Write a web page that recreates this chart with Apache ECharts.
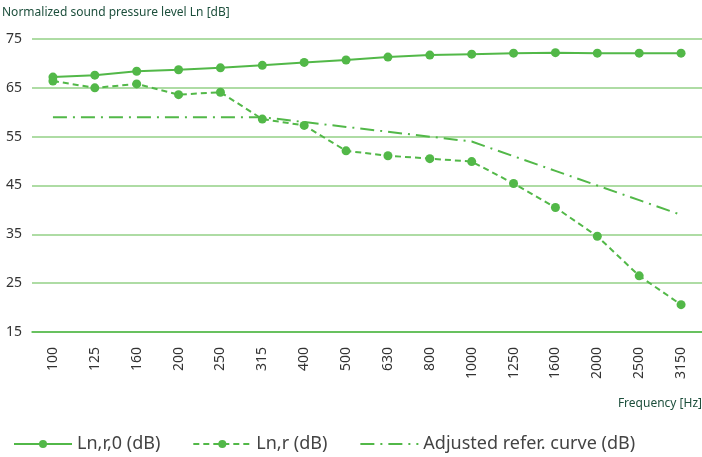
<!DOCTYPE html>
<html style="height: 100%">
   <head>
       <meta charset="utf-8">
   </head>
   <body style="height: 100%; margin: 0; background: #fff">
       <div id="container" style="width: 702px; height: 457px"></div>
       <script type="text/javascript" src="https://cdn.jsdelivr.net/npm/echarts@6/dist/echarts.min.js"></script>
       <script type="text/javascript">
var frequencies = ['100', '125', '160', '200', '250', '315', '400', '500', '630', '800', '1000', '1250', '1600', '2000', '2500', '3150'];
var lnr0 = [67.2, 67.6, 68.4, 68.7, 69.1, 69.6, 70.2, 70.7, 71.3, 71.7, 71.9, 72.1, 72.2, 72.1, 72.1, 72.1];
var lnr = [66.4, 65.0, 65.8, 63.6, 64.1, 58.6, 57.3, 52.1, 51.1, 50.5, 49.9, 45.4, 40.5, 34.6, 26.5, 20.6];
var refCurve = [59, 59, 59, 59, 59, 59, 58, 57, 56, 55, 54, 51, 48, 45, 42, 39];

var green = '#52b848';
var gridGreen = '#93d086';
var font = 'Noto Sans';

var dom = document.getElementById("container");
var myChart = echarts.init(dom);
var option = {
    animation: false,
    textStyle: {fontFamily: font},
    grid: {left: 32, right: 0, top: 39, bottom: 125, outerBoundsMode: 'none'},
    legend: {
        left: 8,
        top: 430,
        itemWidth: 58,
        itemHeight: 10,
        itemGap: 32,
        textStyle: {fontSize: 18, color: '#444', fontFamily: font},
        data: [
            {name: 'Ln,r,0 (dB)'},
            {name: 'Ln,r (dB)'},
            {name: 'Adjusted refer. curve (dB)', itemStyle: {opacity: 0}}
        ]
    },
    xAxis: {
        type: 'category',
        data: frequencies,
        name: 'Frequency [Hz]',
        nameLocation: 'end',
        nameGap: 0,
        nameTextStyle: {
            align: 'right',
            verticalAlign: 'top',
            padding: [66, 0, 0, 0],
            fontSize: 12,
            color: '#1d4f3c'
        },
        axisLine: {lineStyle: {color: green, width: 1.5}},
        axisTick: {alignWithLabel: true, length: 8, lineStyle: {color: gridGreen, width: 2}},
        axisLabel: {rotate: 90, margin: 15, fontSize: 14, color: '#333'}
    },
    yAxis: {
        type: 'value',
        min: 15,
        max: 75,
        interval: 10,
        name: 'Normalized sound pressure level Ln [dB]',
        nameLocation: 'end',
        nameGap: 20,
        nameTextStyle: {align: 'left', padding: [0, 0, 0, -30], fontSize: 12, color: '#1d4f3c'},
        axisLine: {show: false},
        axisTick: {show: false},
        axisLabel: {margin: 10, fontSize: 14, color: '#333'},
        splitLine: {lineStyle: {color: gridGreen, width: 1.5}}
    },
    series: [
        {
            name: 'Ln,r,0 (dB)',
            type: 'line',
            data: lnr0,
            symbol: 'circle',
            symbolSize: 9,
            itemStyle: {color: green},
            lineStyle: {color: green, width: 2}
        },
        {
            name: 'Ln,r (dB)',
            type: 'line',
            data: lnr,
            symbol: 'circle',
            symbolSize: 9,
            itemStyle: {color: green},
            lineStyle: {color: green, width: 2, type: [6, 4]}
        },
        {
            name: 'Adjusted refer. curve (dB)',
            type: 'line',
            data: refCurve,
            symbol: 'none',
            itemStyle: {color: green},
            lineStyle: {color: green, width: 2, type: [14, 6, 2, 6]}
        }
    ]
};
myChart.setOption(option, true);
       </script>
   </body>
</html>
